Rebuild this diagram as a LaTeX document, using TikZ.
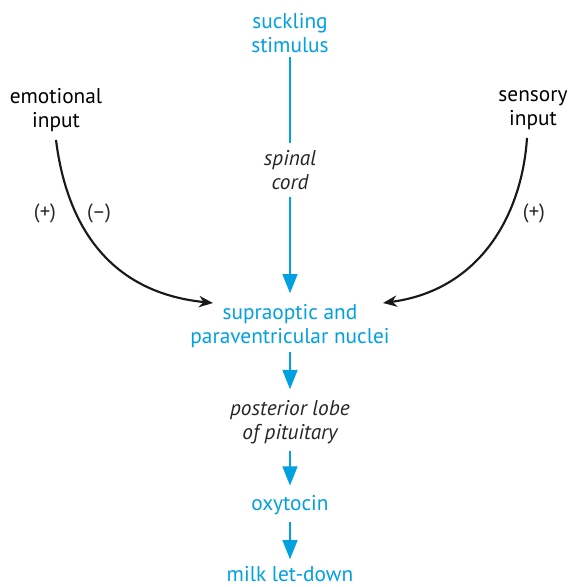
\documentclass[tikz,border=0pt]{standalone}
\usepackage{fontspec}
\setmainfont{PT Sans}
\usetikzlibrary{arrows.meta}
\definecolor{cyanblue}{RGB}{0,160,225}

\begin{document}
\begin{tikzpicture}[x=0.75pt,y=-0.75pt,line cap=butt,line join=round,
    txt/.style={font=\fontsize{16}{18}\selectfont,align=center,inner sep=0pt},
    bluetxt/.style={txt,text=cyanblue},
    darktxt/.style={txt,text=black!85,font=\fontsize{16}{18}\selectfont\itshape},
    sign/.style={font=\fontsize{15.5}{17}\selectfont,text=black!85,inner sep=0pt},
    flow/.style={draw=cyanblue,line width=1.9pt},
    flowarrow/.style={flow,-{Triangle[length=14.5pt,width=11pt]}},
    inarrow/.style={draw=black!90,line width=1.6pt,-{Stealth[length=10.5pt,width=8.5pt]}}]
    \useasboundingbox (0,0) rectangle (570,587);

    % The chain down the middle.
    \node[bluetxt] (stim) at (290,33) {suckling\\stimulus};
    \node[darktxt] (cord) at (290,170) {spinal\\cord};
    \node[bluetxt] (nuclei) at (290,326) {supraoptic and\\paraventricular nuclei};
    \node[darktxt] (lobe) at (290,422) {posterior lobe\\of pituitary};
    \node[bluetxt] (oxy) at (290,505) {oxytocin};
    \node[bluetxt] (milk) at (290,574) {milk let-down};

    \draw[flow] ([yshift=-3]stim.south) -- ([yshift=5]cord.north);
    \draw[flowarrow] ([yshift=-5]cord.south) -- ([yshift=8]nuclei.north);
    \draw[flowarrow] ([yshift=-3]nuclei.south) -- ([yshift=8]lobe.north);
    \draw[flowarrow] ([yshift=-5]lobe.south) -- ([yshift=7]oxy.north);
    \draw[flowarrow] ([yshift=-5]oxy.south) -- ([yshift=5]milk.north);

    % The two side inputs.
    \node[txt] (emo) at (56,110) {emotional\\input};
    \node[txt] (sens) at (533,110) {sensory\\input};
    \coordinate (emotip) at (213,303);
    \coordinate (senstip) at (383,303);
    \draw[inarrow] ([yshift=-6]emo.south) .. controls (66,220) and (105,292) .. (emotip);
    \draw[inarrow] ([xshift=-4.5,yshift=-6]sens.south) .. controls (522,215) and (480,290) .. (senstip);
    \node[sign] (plus1) at (45,213) {(+)};
    \node[sign] (minus1) at (99,213) {(--)};
    \node[sign] (plus2) at (534,213) {(+)};
\end{tikzpicture}
\end{document}
